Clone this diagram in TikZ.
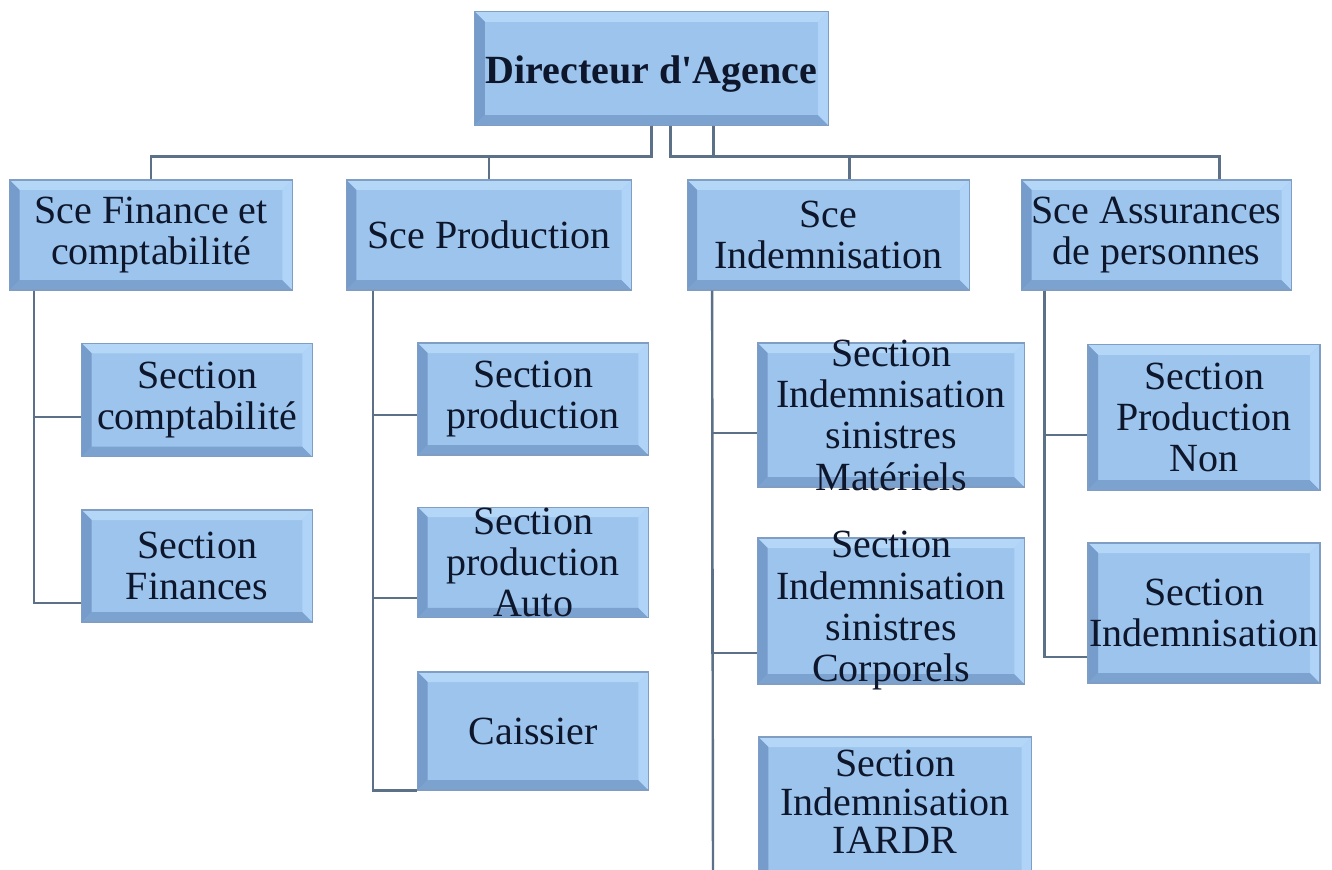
\documentclass[tikz,border=0pt]{standalone}
\usepackage{fontspec}
\setmainfont{Liberation Serif}
\usetikzlibrary{calc}

\definecolor{unitfill}{RGB}{156,196,236}
\definecolor{unitedge}{RGB}{128,158,196}
\definecolor{bevtop}{RGB}{180,214,247}
\definecolor{bevleft}{RGB}{118,156,204}
\definecolor{bevright}{RGB}{176,212,248}
\definecolor{bevbottom}{RGB}{124,162,208}
\definecolor{linkgray}{RGB}{92,112,136}
\definecolor{inkblue}{RGB}{14,22,44}

% bevelled edges of a box
\newcommand{\unitbevel}{%
  \coordinate (bvnw) at (path picture bounding box.north west);
  \coordinate (bvse) at (path picture bounding box.south east);
  \coordinate (bvne) at (bvse |- bvnw);
  \coordinate (bvsw) at (bvnw |- bvse);
  \fill[bevtop] (bvnw) -- (bvne) -- ($(bvne)+(-10,10)$) -- ($(bvnw)+(10,10)$) -- cycle;
  \fill[bevbottom] (bvsw) -- (bvse) -- ($(bvse)+(-10,-10)$) -- ($(bvsw)+(10,-10)$) -- cycle;
  \fill[bevleft] (bvnw) -- (bvsw) -- ($(bvsw)+(10,-10)$) -- ($(bvnw)+(10,10)$) -- cycle;
  \fill[bevright] (bvne) -- (bvse) -- ($(bvse)+(-10,-10)$) -- ($(bvne)+(-10,10)$) -- cycle;
}

\tikzset{
  unit/.style={draw=unitedge, fill=unitfill, line width=0.8pt, inner sep=0pt, path picture={\unitbevel}},
  unittext/.style={text=inkblue, align=center, inner sep=0pt, font=\fontsize{30}{31}\selectfont},
  service/.style={unit, minimum width=212pt, minimum height=82.5pt},
  section/.style={unit, minimum width=173pt, minimum height=85pt},
  link/.style={draw=linkgray, line width=1.8pt}
}

\begin{document}
\begin{tikzpicture}[x=0.75pt, y=-0.75pt]

  \useasboundingbox (0,0) rectangle (1332,870);
  \clip (0,0) rectangle (1332,870);
  \fill[white] (0,0) rectangle (1332,870);

  % Head
  \node at (651.5,68.5) (dir) [unit, minimum width=265pt, minimum height=85pt,
    label={[unittext, yshift=-4pt, font=\fontsize{30}{32}\selectfont\bfseries]center:Directeur d\textquotesingle Agence}] {};

  % Services
  \node at (151,235) (fin) [service, label={[unittext]center:Sce Finance et\\comptabilité}] {};
  \node at (489,235) (prod) [service, minimum width=214pt, label={[unittext]center:Sce Production}] {};
  \node at (828.5,235) (ind) [service, label={[unittext]center:Sce\\Indemnisation}] {};
  \node at (1156.5,235) (ass) [service, minimum width=202.5pt, label={[unittext]center:Sce Assurances\\de personnes}] {};

  % Sections finance
  \node at (197,400) (fin1) [section, label={[unittext]center:Section\\comptabilité}] {};
  \node at (197,566) (fin2) [section, minimum height=84pt, label={[unittext]center:Section\\Finances}] {};

  % Sections production
  \node at (533,399) (prod1) [section, minimum height=84pt, label={[unittext]center:Section\\production}] {};
  \node at (533,562.5) (prod2) [section, minimum height=83pt, label={[unittext]center:Section\\production\\Auto}] {};
  \node at (533,731) (prod3) [section, minimum height=88.5pt, label={[unittext]center:Caissier}] {};

  % Sections indemnisation
  \node at (891,415) (ind1) [section, minimum width=200pt, minimum height=108pt,
    label={[unittext]center:Section\\Indemnisation\\sinistres\\Matériels}] {};
  \node at (891,611) (ind2) [section, minimum width=200pt, minimum height=109.5pt,
    label={[unittext]center:Section\\Indemnisation\\sinistres\\Corporels}] {};
  \node at (895,810) (ind3) [section, minimum width=205pt, minimum height=109.5pt,
    label={[unittext, yshift=6pt, font=\fontsize{30}{29}\selectfont]center:Section\\Indemnisation\\IARDR}] {};

  % Sections assurances de personnes
  \node at (1204,417.5) (ass1) [section, minimum width=174pt, minimum height=109pt,
    label={[unittext]center:Section\\Production\\Non}] {};
  \node at (1204,613) (ass2) [section, minimum width=174pt, minimum height=105pt,
    label={[unittext]center:Section\\Indemnisation}] {};

  % Links to services
  \draw[link] (dir.south) -- ++(0,31) -| (fin.north);
  \draw[link] (dir.south) -- ++(0,31) -| (prod.north);
  \draw[link] ($(dir.south)+(19,0)$) -- ++(0,31) -| ($(ind.north)+(21,0)$);
  \draw[link] ($(dir.south)+(62,0)$) -- ++(0,31) -| ($(ass.north)+(63,0)$);

  % Links to sections
  \draw[link] ($(fin.south west)+(25,0)$) |- ($(fin1.west)+(0,17)$);
  \draw[link] ($(fin.south west)+(25,0)$) |- ($(fin2.west)+(0,37)$);

  \draw[link] ($(prod.south west)+(27,0)$) |- ($(prod1.west)+(0,16)$);
  \draw[link] ($(prod.south west)+(27,0)$) |- ($(prod2.west)+(0,35.5)$);
  \draw[link] ($(prod.south west)+(27,0)$) |- (prod3.south west);

  \coordinate (indend) at (713,880);
  \draw[link] ($(ind.south west)+(25.5,0)$) -- (indend);
  \draw[link] ($(ind.south west)+(25.5,0)$) |- ($(ind1.west)+(0,18)$);
  \draw[link] ($(ind.south west)+(25.5,0)$) |- ($(ind2.west)+(0,42)$);

  \draw[link] ($(ass.south west)+(23.5,0)$) |- ($(ass1.west)+(0,17.5)$);
  \draw[link] ($(ass.south west)+(23.5,0)$) |- ($(ass2.west)+(0,44)$);

\end{tikzpicture}
\end{document}
